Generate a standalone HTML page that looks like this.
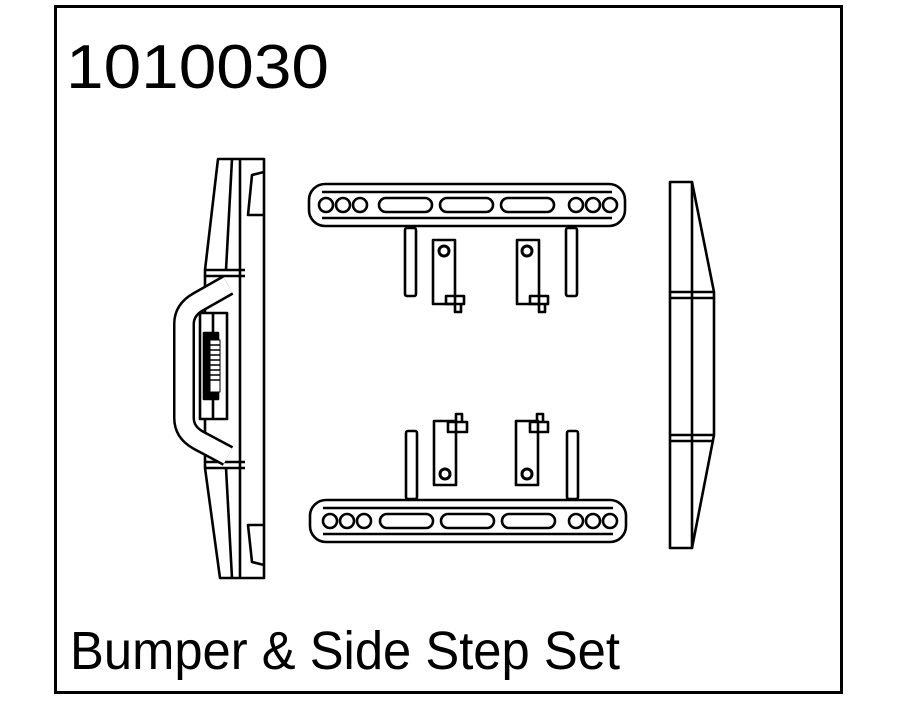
<!DOCTYPE html>
<html><head><style>
html,body{margin:0;padding:0;background:#fff;}
svg{display:block;}
</style></head><body>
<svg width="899" height="704" viewBox="0 0 899 704" xmlns="http://www.w3.org/2000/svg">
<rect x="55.5" y="6.5" width="786" height="686" fill="#fff" stroke="#000" stroke-width="3"/>
<text x="66" y="88" font-family="Liberation Sans Narrow, Liberation Sans, sans-serif" font-size="62" textLength="263" lengthAdjust="spacingAndGlyphs">1010030</text>
<text x="70" y="669" font-family="Liberation Sans Narrow, Liberation Sans, sans-serif" font-size="54" textLength="550" lengthAdjust="spacingAndGlyphs">Bumper &amp; Side Step Set</text>

<g fill="none" stroke="#000" stroke-width="2.6" stroke-linejoin="round">
<!-- left bumper -->
<path d="M218,159 L264,159 L264,578 L220,578 L205,468 L205,270 Z" fill="#fff"/>
<line x1="240" y1="159" x2="240" y2="578"/>
<line x1="232" y1="159" x2="226" y2="270"/>
<line x1="232" y1="578" x2="226" y2="468"/>
<path d="M264,172 L252,175 L248,215 L264,215"/>
<path d="M264,565 L252,562 L248,525 L264,525"/>
<line x1="205" y1="270" x2="245" y2="270"/>
<line x1="205" y1="276" x2="245" y2="276"/>
<line x1="205" y1="468" x2="245" y2="468"/>
<line x1="205" y1="462" x2="245" y2="462"/>
<!-- bull bar -->
<path d="M228,285 L198,302 Q184,310 184,324 L184,418 Q184,432 198,440 L228,456" stroke-width="22" stroke="#000"/>
<path d="M228,285 L198,302 Q184,310 184,324 L184,418 Q184,432 198,440 L228,456" stroke-width="17" stroke="#fff"/>
<!-- winch -->
<rect x="200" y="313" width="27" height="106" fill="#fff"/>
<line x1="213" y1="313" x2="213" y2="419"/>
<rect x="204" y="333" width="14" height="66" fill="#000"/>
<rect x="210" y="340" width="10" height="52" fill="#fff" stroke-width="1"/>
<line x1="210" y1="345" x2="220" y2="345" stroke-width="1.5"/>
<line x1="210" y1="350" x2="220" y2="350" stroke-width="1.5"/>
<line x1="210" y1="355" x2="220" y2="355" stroke-width="1.5"/>
<line x1="210" y1="360" x2="220" y2="360" stroke-width="1.5"/>
<line x1="210" y1="365" x2="220" y2="365" stroke-width="1.5"/>
<line x1="210" y1="370" x2="220" y2="370" stroke-width="1.5"/>
<line x1="210" y1="375" x2="220" y2="375" stroke-width="1.5"/>
<line x1="210" y1="380" x2="220" y2="380" stroke-width="1.5"/>

<!-- right bumper -->
<rect x="670" y="182" width="22" height="366" fill="#fff"/>
<path d="M692,182 L714,292 L714,435 L692,548"/>
<line x1="670" y1="292" x2="714" y2="292"/>
<line x1="670" y1="298" x2="714" y2="298"/>
<line x1="670" y1="435" x2="714" y2="435"/>
<line x1="670" y1="441" x2="714" y2="441"/>

<!-- top step -->
<rect x="309" y="184" width="316" height="42" rx="16" fill="#fff"/>
<line x1="322" y1="192" x2="612" y2="192"/>
<line x1="322" y1="218" x2="612" y2="218"/>
<circle cx="326" cy="205" r="7"/><circle cx="343" cy="205" r="7"/><circle cx="360" cy="205" r="7"/>
<circle cx="576" cy="205" r="7"/><circle cx="593" cy="205" r="7"/><circle cx="610" cy="205" r="7"/>
<rect x="379" y="198" width="53" height="14" rx="7"/>
<rect x="440" y="198" width="53" height="14" rx="7"/>
<rect x="501" y="198" width="53" height="14" rx="7"/>
<rect x="405" y="228" width="11" height="68" rx="2"/>
<rect x="566" y="228" width="11" height="68" rx="2"/>
<rect x="433" y="240" width="22" height="64"/>
<rect x="517" y="240" width="22" height="64"/>
<path d="M446,296 h18 v8 h-18 z M455,304 v8 h6 v-8"/>
<path d="M530,296 h18 v8 h-18 z M539,304 v8 h6 v-8"/>
<circle cx="444" cy="251" r="5" stroke-width="3"/>
<circle cx="527" cy="251" r="5" stroke-width="3"/>

<!-- bottom step -->
<rect x="310" y="500" width="316" height="42" rx="16" fill="#fff"/>
<line x1="323" y1="508" x2="613" y2="508"/>
<line x1="323" y1="534" x2="613" y2="534"/>
<circle cx="330" cy="521" r="7"/><circle cx="347" cy="521" r="7"/><circle cx="364" cy="521" r="7"/>
<circle cx="576" cy="521" r="7"/><circle cx="593" cy="521" r="7"/><circle cx="610" cy="521" r="7"/>
<rect x="380" y="514" width="53" height="14" rx="7"/>
<rect x="441" y="514" width="53" height="14" rx="7"/>
<rect x="502" y="514" width="53" height="14" rx="7"/>
<rect x="406" y="431" width="11" height="68" rx="2"/>
<rect x="567" y="431" width="11" height="68" rx="2"/>
<rect x="434" y="421" width="22" height="64"/>
<rect x="516" y="421" width="22" height="64"/>
<path d="M448,422 h19 v10 h-19 z M456,422 v-8 h6 v8"/>
<path d="M530,422 h18 v10 h-18 z M537,422 v-8 h6 v8"/>
<circle cx="445" cy="474" r="5" stroke-width="3"/>
<circle cx="527" cy="474" r="5" stroke-width="3"/>
</g>
</svg>
</body></html>
